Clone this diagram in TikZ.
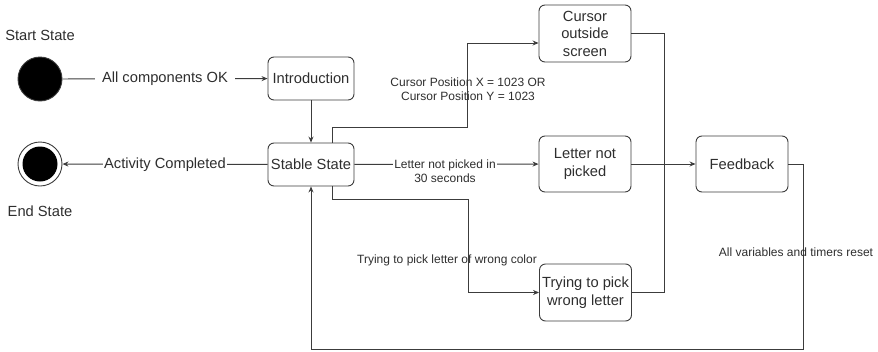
\documentclass[tikz,border=0pt]{standalone}
\usepackage{fontspec}
\setmainfont{Liberation Sans}
\usetikzlibrary{arrows.meta,calc}
\definecolor{ink}{HTML}{2E2E2E}
\definecolor{wire}{HTML}{3C3C3C}
\begin{document}
\begin{tikzpicture}[x=1pt,y=-1pt,
  every node/.style={text=ink},
  big/.style={font=\fontsize{14.7}{17.5}\selectfont},
  small/.style={font=\fontsize{12}{14}\selectfont, align=center, inner sep=1pt},
  statebox/.style={big, draw=wire, line width=0.9pt, rounded corners=6pt,
    align=center, minimum width=92pt, minimum height=56pt, inner sep=1pt},
  wire/.style={draw=wire, line width=0.9pt},
  arr/.style={wire, -{Stealth[length=6pt,width=5pt]}},
  elabel/.style={big, fill=white, inner sep=1pt}]
\useasboundingbox (0,0) rectangle (878,351);

% initial and final pseudo-states
\node[circle, fill=black, draw=wire, line width=0.9pt, minimum size=44pt, inner sep=0pt] (start) at (40,79) {};
\node[big] (startlbl) at (40,35) {Start State};
\node[circle, fill=white, draw=wire, line width=0.9pt, minimum size=44pt, inner sep=0pt] (finish) at (40,164) {};
\node[circle, fill=black, minimum size=35pt, inner sep=0pt] (finishdot) at (40,164) {};
\node[big] (finishlbl) at (40,211) {End State};

% states
\node[statebox, minimum width=86pt, minimum height=43pt] (intro) at (311,78.5) {Introduction};
\node[statebox, minimum width=86pt, minimum height=43pt] (stable) at (311,164.5) {Stable State};
\node[statebox, minimum height=57pt] (cursor) at (585,33.5) {Cursor\\outside\\screen};
\node[statebox] (lnp) at (585,164) {Letter not\\picked};
\node[statebox, minimum height=57pt] (wrong) at (585.5,292.5) {Trying to pick\\wrong letter};
\node[statebox] (fb) at (742,164) {Feedback};
\coordinate (join) at (664,164);

% transitions
\draw[arr] (start) -- node[elabel, inner xsep=7pt] {All components OK} (intro);
\draw[arr] (stable) -- node[elabel] {Activity Completed} (finish);
\draw[arr] (intro) -- (stable);

\draw[arr] ([xshift=21pt]stable.north) -- ++(0,-15)
  -| ([xshift=-71pt,yshift=-9.5pt]cursor.west) -- ([yshift=-9.5pt]cursor.west);
\node[small] (cposlbl) at (468,89) {Cursor Position X = 1023 OR\\Cursor Position Y = 1023};

\draw[arr] (stable) -- (lnp);
\node[small, fill=white] (lnplbl) at (445,171.5) {Letter not picked in\\30 seconds};

\draw[arr] ([xshift=21pt]stable.south) -- ++(0,13)
  -| ([xshift=-71pt]wrong.west) -- (wrong.west);
\node[small] (wronglbl) at (447,260) {Trying to pick letter of wrong color};

\draw[wire] (cursor.east) -| (join);
\draw[wire] (wrong.east) -| (join);
\draw[arr] (lnp) -- (fb);

\draw[arr] (fb.east) -- ++(15,0) -- ++(0,185) -| (stable.south);
\node[small] (resetlbl) at (796,252) {All variables and timers reset};
\end{tikzpicture}
\end{document}
